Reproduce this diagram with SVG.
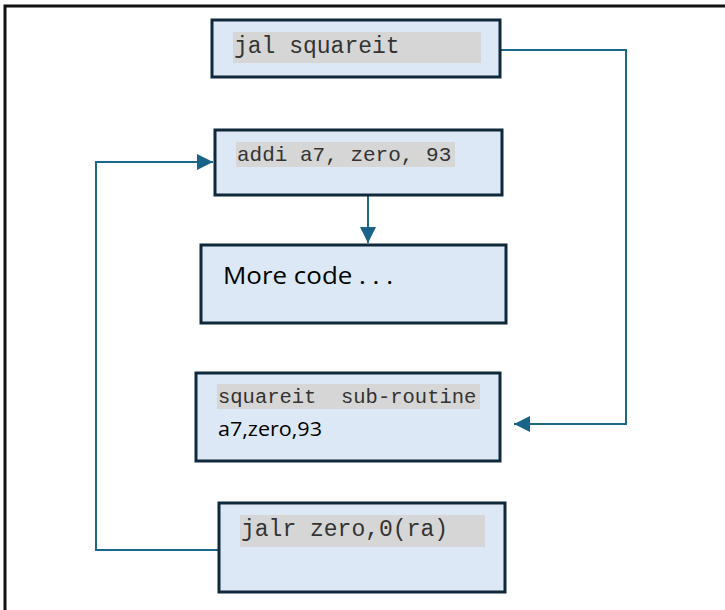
<svg xmlns="http://www.w3.org/2000/svg" width="725" height="610" viewBox="0 0 725 610">
  <defs>
    <style>
      .box { fill: #dce8f5; stroke: #10293a; stroke-width: 3; }
      .hl { fill: #d6d6d6; }
      .code { font-family: "Liberation Mono", "Courier New", monospace; fill: #333; white-space: pre; }
      .txt { font-family: "Open Sans", "Noto Sans", sans-serif; fill: #000; }
      .wire { fill: none; stroke: #1d6687; stroke-width: 2; }
    </style>
    <marker id="arrow" viewBox="0 0 10 10" refX="10" refY="5" markerWidth="16" markerHeight="16" markerUnits="userSpaceOnUse" orient="auto">
      <path d="M0,0 L10,5 L0,10 z" fill="#1a6388"/>
    </marker>
  </defs>

  <!-- outer frame -->
  <path d="M5,610 V6 H725" fill="none" stroke="#111" stroke-width="3"/>

  <g id="connectors">
    <path class="wire" d="M500,50 H626 V424 H514" marker-end="url(#arrow)"/>
    <path class="wire" d="M368,195 V243" marker-end="url(#arrow)"/>
    <path class="wire" d="M219,550 H96 V162 H213" marker-end="url(#arrow)"/>
  </g>

  <g id="jal">
    <rect class="box" x="212" y="20" width="288" height="57"/>
    <rect class="hl" x="233" y="32" width="248" height="31"/>
    <text class="code" x="234" y="53" font-size="23">jal squareit</text>
  </g>

  <g id="addi">
    <rect class="box" x="215" y="130" width="287" height="65"/>
    <rect class="hl" x="236" y="142" width="219" height="25"/>
    <text class="code" x="237" y="161" font-size="21">addi a7, zero, 93</text>
  </g>

  <g id="more-code">
    <rect class="box" x="201" y="245" width="305" height="78"/>
    <text class="txt" x="223" y="284" font-size="24" textLength="170" lengthAdjust="spacingAndGlyphs">More code . . .</text>
  </g>

  <g id="squareit">
    <rect class="box" x="196" y="373" width="304" height="88"/>
    <rect class="hl" x="217" y="384" width="263" height="25"/>
    <text class="code" x="218" y="403" font-size="20.5" xml:space="preserve">squareit  sub-routine</text>
    <text class="txt" x="218" y="436" font-size="20" textLength="104" lengthAdjust="spacingAndGlyphs">a7,zero,93</text>
  </g>

  <g id="jalr">
    <rect class="box" x="219" y="503" width="286" height="89"/>
    <rect class="hl" x="240" y="515" width="245" height="32"/>
    <text class="code" x="241" y="536" font-size="23">jalr zero,0(ra)</text>
  </g>
</svg>
